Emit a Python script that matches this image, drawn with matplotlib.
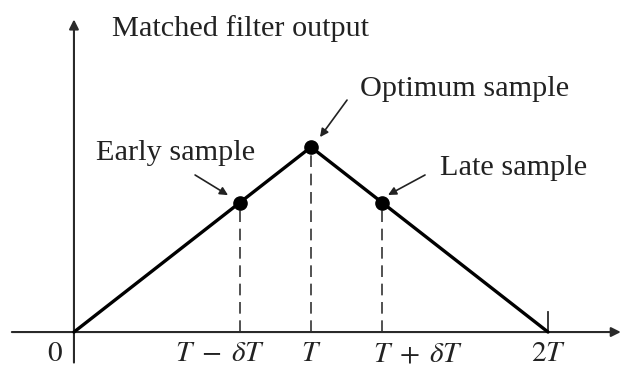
import matplotlib
matplotlib.use('Agg')
import matplotlib.pyplot as plt

plt.rcParams['font.family'] = ['Liberation Serif', 'DejaVu Serif']
plt.rcParams['mathtext.fontset'] = 'stix'

### Data

# Triangular matched filter output, T = 1
T = 1.0
dT = 0.3
output_t = [0.0, T, 2 * T]
output_y = [0.0, 1.0, 0.0]

sample_t = [T - dT, T, T + dT]
sample_names = ['Early sample', 'Optimum sample', 'Late sample']

tick_t = [0.0, T - dT, T, T + dT, 2 * T]
tick_labels = [r'$0$', r'$T\;-\;\delta T$', r'$T$', r'$T\;+\;\delta T$', r'$2T$']


def triangle(t):
   """
   Matched filter output at time t
   """
   if t <= T:
      return t / T
   return (2 * T - t) / T


### Plot

fig = plt.figure(figsize=(6.22, 3.67), dpi=100)
ax = fig.add_axes([0, 0, 1, 1])
ax.set_xlim(-0.312, 2.312)
ax.set_ylim(-0.189, 1.795)
ax.axis('off')

# Axes with arrow heads
arrow_kw = dict(arrowstyle='-|>', color='#2a2a2a', lw=1.5, mutation_scale=14, shrinkA=0, shrinkB=0)
ax.annotate('', xy=(2.307, 0), xytext=(-0.262, 0), arrowprops=arrow_kw)
ax.annotate('', xy=(0, 1.69), xytext=(0, -0.165), arrowprops=arrow_kw)
ax.text(0.16, 1.64, 'Matched filter output', fontsize=21.8, va='center', ha='left', color='#222222')

# Small tick at 2T
ax.plot([2 * T, 2 * T], [0, 0.11], color='#2a2a2a', lw=1.3)

# Output curve
ax.plot(output_t, output_y, color='black', lw=2.4, solid_capstyle='round', zorder=3)

# Dashed drop lines and sample points
for t in sample_t:
   ax.plot([t, t], [0, triangle(t)], color='#333333', lw=1.2, dashes=(7, 4))
ax.plot(sample_t, [triangle(t) for t in sample_t], 'o', color='black', ms=9.5, zorder=4)

# Labels with pointer arrows
label_pos = [(0.43, 0.968, 'center'), (1.207, 1.314, 'left'), (1.544, 0.886, 'left')]
arrow_tail = [(0.511, 0.849), (1.152, 1.254), (1.481, 0.849)]
arrow_head = [(0.65, 0.74), (1.038, 1.054), (1.325, 0.741)]
pointer_kw = dict(arrowstyle='-|>', color='#222222', lw=1.2, mutation_scale=12, shrinkA=0, shrinkB=0)
for name, pos, tail, head in zip(sample_names, label_pos, arrow_tail, arrow_head):
   ax.text(pos[0], pos[1], name, fontsize=21.8, ha=pos[2], va='center', color='#222222')
   ax.annotate('', xy=head, xytext=tail, arrowprops=pointer_kw)

# Time axis labels, the wide ones nudged off their lines
label_shift = [-0.08, -0.084, 0.0, 0.151, 0.0]
for t, lab, s in zip(tick_t, tick_labels, label_shift):
   ax.text(t + s, -0.12, lab, fontsize=21, ha='center', va='center', color='#222222')

fig.savefig('out.png', dpi=100)
